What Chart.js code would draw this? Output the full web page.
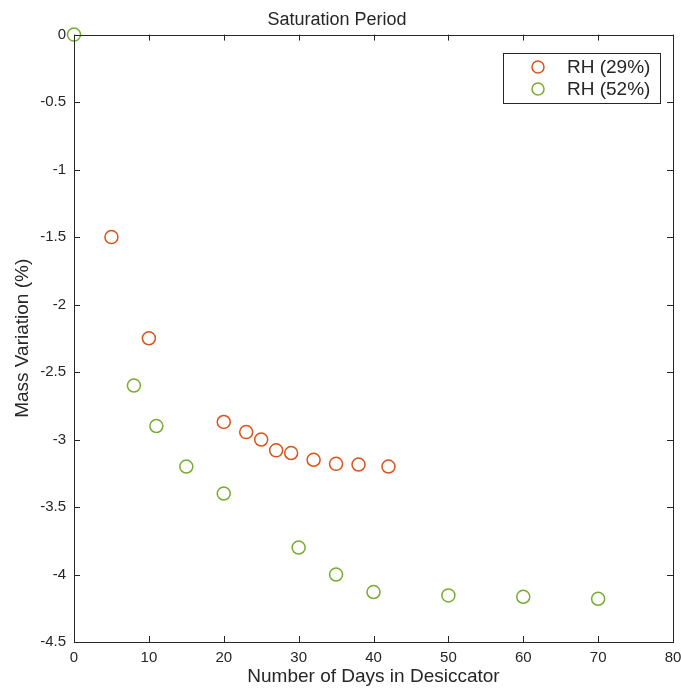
<!DOCTYPE html>
<html>
<head>
<meta charset="utf-8">
<script src="https://cdn.jsdelivr.net/npm/chart.js@4"></script>
<style>
  body { margin: 0; background: #fff; }
  #wrap { width: 681px; height: 689px; }
</style>
</head>
<body>
<div id="wrap"><canvas id="satChart" width="681" height="689"></canvas></div>
<script>
// data
const daysRH29 = [5, 10, 20, 23, 25, 27, 29, 32, 35, 38, 42];
const massRH29 = [-1.5, -2.25, -2.87, -2.945, -3.0, -3.08, -3.10, -3.15, -3.18, -3.185, -3.2];
const daysRH52 = [0, 8, 11, 15, 20, 30, 35, 40, 50, 60, 70];
const massRH52 = [0, -2.6, -2.9, -3.2, -3.4, -3.8, -4.0, -4.13, -4.155, -4.165, -4.18];
const xTicks = [0, 10, 20, 30, 40, 50, 60, 70, 80];
const yTicks = [0, -0.5, -1, -1.5, -2, -2.5, -3, -3.5, -4, -4.5];

const orange = '#D95319';
const green = '#77AC30';
const ink = '#262626';
const fam = '"Liberation Sans", Arial, Helvetica, sans-serif';

function toPoints(xs, ys) {
    return xs.map((x, i) => ({ x: x, y: ys[i] }));
}

// box around the plot + inward ticks on all four sides (matlab style)
const boxPlugin = {
    id: 'boxPlugin',
    afterDatasetsDraw(chart) {
        const ctx = chart.ctx;
        const a = chart.chartArea;
        const xs = chart.scales.x, ys = chart.scales.y;
        ctx.save();
        ctx.strokeStyle = ink;
        ctx.lineWidth = 1;
        ctx.strokeRect(Math.round(a.left) + 0.5, Math.round(a.top) + 0.5,
            Math.round(a.right - a.left), Math.round(a.bottom - a.top));
        ctx.beginPath();
        xTicks.forEach(v => {
            const px = Math.round(xs.getPixelForValue(v)) + 0.5;
            ctx.moveTo(px, a.bottom); ctx.lineTo(px, a.bottom - 6);
            ctx.moveTo(px, a.top); ctx.lineTo(px, a.top + 6);
        });
        yTicks.forEach(v => {
            const py = Math.round(ys.getPixelForValue(v)) + 0.5;
            ctx.moveTo(a.left, py); ctx.lineTo(a.left + 6, py);
            ctx.moveTo(a.right, py); ctx.lineTo(a.right - 6, py);
        });
        ctx.stroke();

        // legend box in the upper right corner
        const lx = 503, ly = 53, lw = 157, lh = 50;
        ctx.fillStyle = '#fff';
        ctx.fillRect(lx, ly, lw, lh);
        ctx.strokeRect(lx + 0.5, ly + 0.5, lw, lh);
        ctx.font = '19px ' + fam;
        ctx.textBaseline = 'middle';
        chart.data.datasets.forEach((ds, i) => {
            const cy = ly + 14 + i * 22;
            ctx.beginPath();
            ctx.strokeStyle = ds.borderColor;
            ctx.lineWidth = 1.5;
            ctx.arc(538, cy, 6, 0, Math.PI * 2);
            ctx.stroke();
            ctx.fillStyle = ink;
            ctx.fillText(ds.label, 567, cy + 1);
        });
        ctx.restore();
    }
};

const ctx = document.getElementById('satChart').getContext('2d');
const satChart = new Chart(ctx, {
    type: 'scatter',
    data: {
        datasets: [{
            label: 'RH (29%)',
            data: toPoints(daysRH29, massRH29),
            borderColor: orange,
            backgroundColor: 'rgba(0,0,0,0)',
            borderWidth: 1.5,
            pointRadius: 6.5,
            clip: false
        }, {
            label: 'RH (52%)',
            data: toPoints(daysRH52, massRH52),
            borderColor: green,
            backgroundColor: 'rgba(0,0,0,0)',
            borderWidth: 1.5,
            pointRadius: 6.5,
            clip: false
        }]
    },
    options: {
        responsive: false,
        animation: false,
        layout: { padding: { top: 0, right: 7, bottom: 0, left: 0 } },
        scales: {
            x: {
                type: 'linear',
                min: 0,
                max: 80,
                afterBuildTicks: s => { s.ticks = xTicks.map(v => ({ value: v })); },
                afterFit: s => { s.height = 47; s.paddingLeft = 0; s.paddingRight = 0; },
                grid: { display: false, drawTicks: false },
                border: { display: false },
                ticks: {
                    padding: 7,
                    color: ink,
                    font: { size: 15, family: fam }
                },
                title: {
                    display: true,
                    text: 'Number of Days in Desiccator',
                    color: ink,
                    padding: { top: 0, bottom: 0.5 },
                    font: { size: 19, family: fam }
                }
            },
            y: {
                type: 'linear',
                min: -4.5,
                max: 0,
                afterBuildTicks: s => { s.ticks = yTicks.map(v => ({ value: v })); },
                afterFit: s => { s.width = 74; s.paddingTop = 0; s.paddingBottom = 0; },
                grid: { display: false, drawTicks: false },
                border: { display: false },
                ticks: {
                    padding: 8,
                    color: ink,
                    font: { size: 15, family: fam },
                    callback: v => String(v)
                },
                title: {
                    display: true,
                    text: 'Mass Variation (%)',
                    color: ink,
                    padding: { top: 11.5, bottom: 0 },
                    font: { size: 19, family: fam }
                }
            }
        },
        plugins: {
            legend: { display: false },
            tooltip: { enabled: false },
            title: {
                display: true,
                text: 'Saturation Period',
                color: ink,
                padding: { top: 9, bottom: 4 },
                font: { size: 18, weight: 'normal', family: fam }
            }
        }
    },
    plugins: [boxPlugin]
});
</script>
</body>
</html>
